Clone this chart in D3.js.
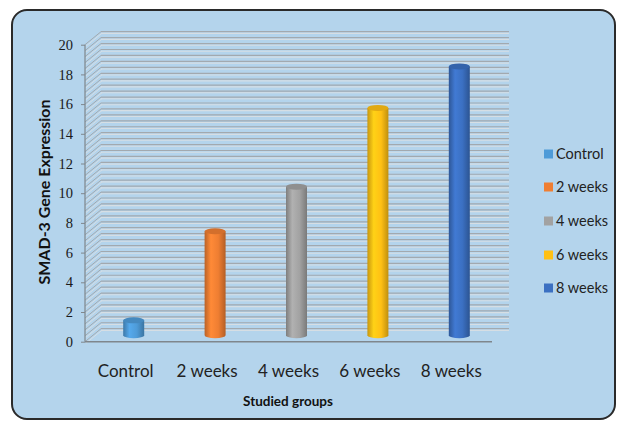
<!DOCTYPE html>
<html><head><meta charset="utf-8">
<script src="https://cdn.jsdelivr.net/npm/d3@7"></script>
<style>body{margin:0;background:#fff}svg{display:block}</style>
</head><body>
<svg id="c" width="619" height="422"></svg>
<script>
const categories = ["Control", "2 weeks", "4 weeks", "6 weeks", "8 weeks"];
const values = [1.0, 7.0, 10.0, 15.3, 18.1];
const colors = ["#4E9BD8", "#EF7E32", "#A2A2A2", "#FFC014", "#3B70C2"];
const yTicks = [0, 2, 4, 6, 8, 10, 12, 14, 16, 18, 20];
const yTitle = "SMAD-3 Gene Expression";
const xTitle = "Studied groups";

const svg = d3.select("#c");
const defs = svg.append("defs");

// frame
svg.append("rect").attr("x", 12).attr("y", 10).attr("width", 603).attr("height", 409)
  .attr("rx", 15).attr("fill", "#B4D4EC").attr("stroke", "#2a2a2a").attr("stroke-width", 2);

const X0 = 85, X1 = 492, DX = 16, DY = -13;
const x = d3.scaleBand().domain(categories).range([X0, X1]);
const y = d3.scaleLinear().domain([0, 20]).range([341.7, 44.7]);

// gridlines (major + minor every 0.4)
const grid = d3.range(0, 20.001, 0.4);
const g = svg.append("g");
grid.forEach(v => {
  const yy = y(v);
  g.append("line").attr("x1", X0).attr("y1", yy).attr("x2", X0 + DX).attr("y2", yy + DY)
    .attr("stroke", "#A2A9AF").attr("stroke-width", 1);
  g.append("line").attr("x1", X0 + 1).attr("y1", yy + 1.5).attr("x2", X0 + DX + 1).attr("y2", yy + DY + 1.5)
    .attr("stroke", "#D6DEE4").attr("stroke-width", 1);
  g.append("line").attr("x1", X0 + DX).attr("y1", yy + DY).attr("x2", X1 + DX + 1).attr("y2", yy + DY)
    .attr("stroke", "#A2A9AF").attr("stroke-width", 1.2);
  g.append("line").attr("x1", X0 + DX).attr("y1", yy + DY + 1.7).attr("x2", X1 + DX + 1).attr("y2", yy + DY + 1.7)
    .attr("stroke", "#D6DEE4").attr("stroke-width", 1.1);
});

// axes
svg.append("line").attr("x1", X0).attr("y1", y(20)).attr("x2", X0).attr("y2", y(0))
  .attr("stroke", "#7f868c").attr("stroke-width", 1.2);
svg.append("line").attr("x1", X0).attr("y1", y(0)).attr("x2", X1).attr("y2", y(0))
  .attr("stroke", "#7f868c").attr("stroke-width", 1.5);

const yAxis = svg.append("g").attr("transform", `translate(${X0},0)`)
  .call(d3.axisLeft(y).tickValues(yTicks).tickSize(4).tickPadding(8));
yAxis.select(".domain").remove();
yAxis.selectAll(".tick line").attr("stroke", "#7f868c");
yAxis.selectAll(".tick text").attr("font-family", "Liberation Serif, serif").attr("font-size", 14.5)
  .attr("fill", "#1a1a1a");

// cylinders
const rx = 10.5, ry = 3;
const bx = DX / 2, by = DY / 2;
categories.forEach((c, i) => {
  const col = d3.color(colors[i]);
  const gid = "grad" + i;
  const lg = defs.append("linearGradient").attr("id", gid).attr("x1", 0).attr("x2", 1).attr("y1", 0).attr("y2", 0);
  lg.append("stop").attr("offset", 0).attr("stop-color", col.darker(0.7));
  lg.append("stop").attr("offset", 0.3).attr("stop-color", col.brighter(0.25));
  lg.append("stop").attr("offset", 0.65).attr("stop-color", col);
  lg.append("stop").attr("offset", 1).attr("stop-color", col.darker(0.8));
  const cx = x(c) + x.bandwidth() / 2 + bx;
  const yb = y(0) + by;
  const yt = y(values[i]) + by;
  const gg = svg.append("g");
  gg.append("path")
    .attr("d", `M${cx - rx},${yt} L${cx - rx},${yb} A${rx},${ry} 0 0 0 ${cx + rx},${yb} L${cx + rx},${yt} Z`)
    .attr("fill", `url(#${gid})`);
  gg.append("ellipse").attr("cx", cx).attr("cy", yt).attr("rx", rx).attr("ry", ry)
    .attr("fill", col.darker(0.35));
});

// category labels
svg.append("g").selectAll("text").data(categories).join("text")
  .attr("x", d => x(d) + x.bandwidth() / 2).attr("y", 377)
  .attr("text-anchor", "middle").attr("font-family", "Lato, sans-serif").attr("font-size", 17)
  .attr("fill", "#222").text(d => d);

// titles
svg.append("text").attr("x", 288).attr("y", 406).attr("text-anchor", "middle")
  .attr("font-family", "Lato, sans-serif").attr("font-weight", "bold").attr("font-size", 13.5)
  .attr("fill", "#111").text(xTitle);
svg.append("text").attr("transform", "translate(50,192) rotate(-90)").attr("text-anchor", "middle")
  .attr("font-family", "Lato, sans-serif").attr("font-weight", "bold").attr("font-size", 16)
  .attr("fill", "#111").text(yTitle);

// legend
const ly = [154, 187, 221, 255, 288];
const leg = svg.append("g");
categories.forEach((c, i) => {
  leg.append("rect").attr("x", 544).attr("y", ly[i] - 4.5).attr("width", 9).attr("height", 9).attr("fill", colors[i]);
  leg.append("text").attr("x", 556).attr("y", ly[i] + 5).attr("font-family", "Lato, sans-serif")
    .attr("font-size", 14.5).attr("fill", "#222").text(c);
});
</script>
</body></html>
